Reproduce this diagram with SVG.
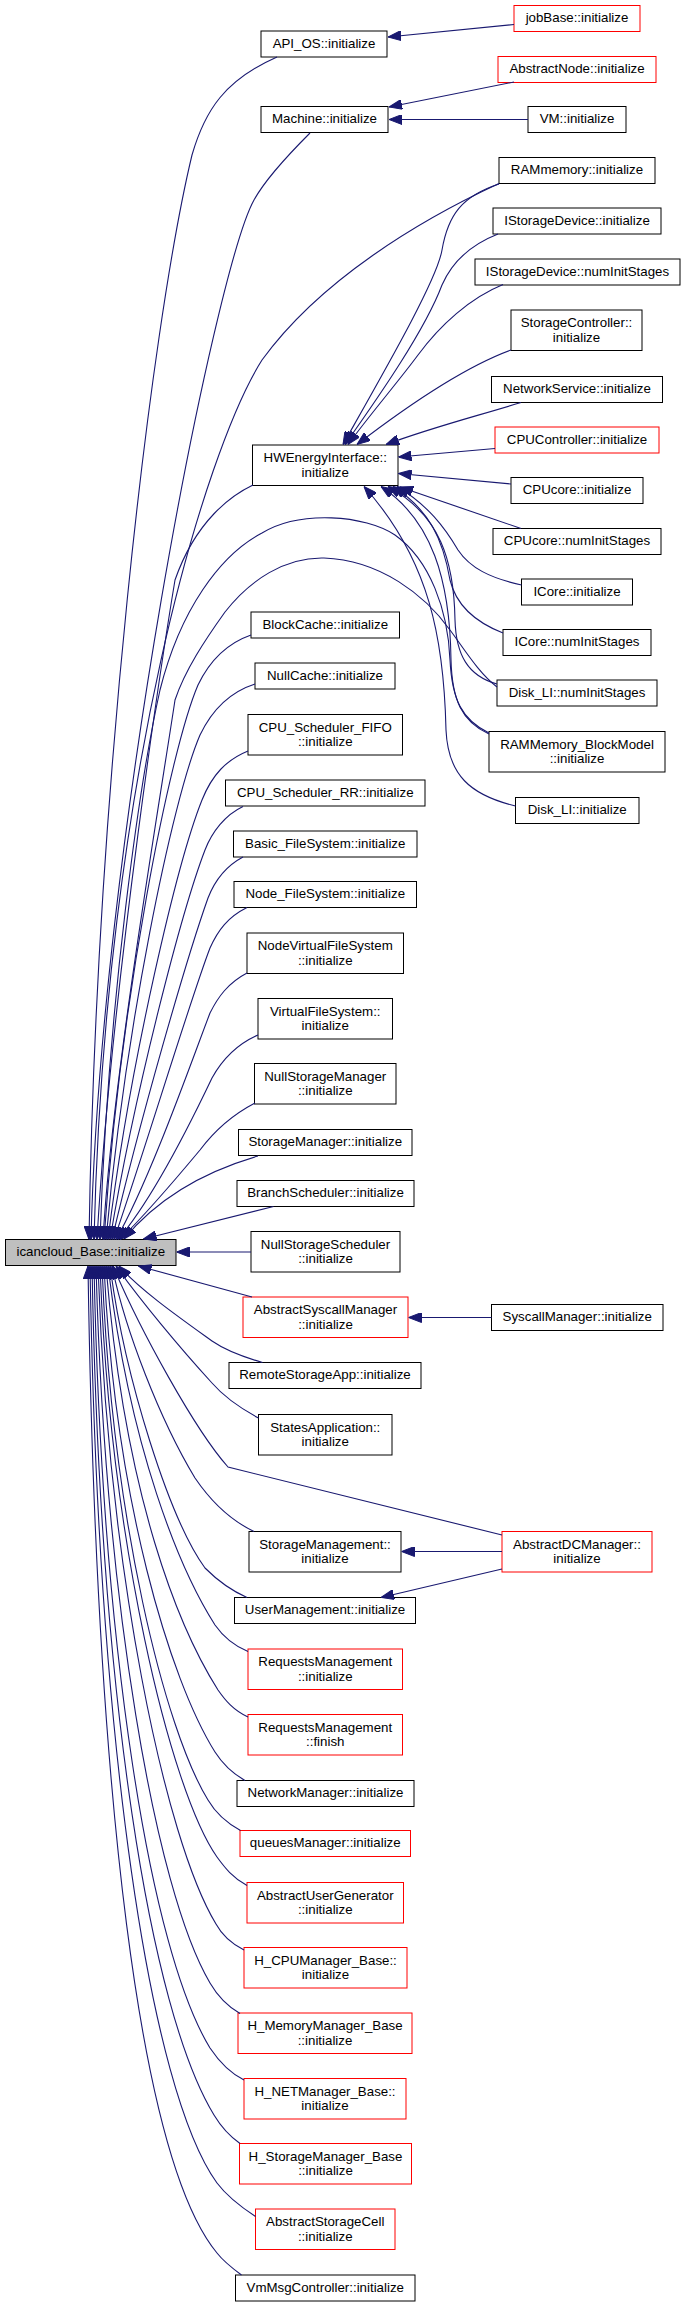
<svg xmlns="http://www.w3.org/2000/svg" width="683" height="2307" viewBox="0 0 683 2307">
<style>
.n rect{fill:#fff;stroke:#000;stroke-width:1}
.n.red rect{stroke:#f00}
.n.root rect{fill:#bfbfbf}
text{font-family:"Liberation Sans",Arial,Helvetica,sans-serif;font-size:13.3px;text-anchor:middle;fill:#000}
#edges path{fill:none;stroke:#191970;stroke-width:1.1;marker-end:url(#ah)}
</style>
<defs>
<marker id="ah" viewBox="0 0 13 10" markerWidth="13" markerHeight="10" refX="13" refY="5" orient="auto" markerUnits="userSpaceOnUse">
<path d="M0,0 L13,5 L0,10 z" fill="#191970" stroke="#191970" stroke-width="1"/>
</marker>
</defs>
<rect width="683" height="2307" fill="#fff"/>

<g id="nodes">
<g id="n0" class="n root"><rect x="5.5" y="1239.5" width="170.5" height="26"/><text x="90.75" y="1256">icancloud_Base::initialize</text></g>
<g id="n1" class="n"><rect x="261" y="31" width="126" height="26"/><text x="324" y="47.5">API_OS::initialize</text></g>
<g id="n2" class="n"><rect x="261" y="106.5" width="127" height="26"/><text x="324.5" y="123">Machine::initialize</text></g>
<g id="n3" class="n red"><rect x="514" y="5.5" width="126" height="26"/><text x="577" y="22">jobBase::initialize</text></g>
<g id="n4" class="n red"><rect x="498" y="56.5" width="158" height="26"/><text x="577" y="73">AbstractNode::initialize</text></g>
<g id="n5" class="n"><rect x="528" y="106.5" width="98" height="26"/><text x="577" y="123">VM::initialize</text></g>
<g id="n6" class="n"><rect x="499" y="157.5" width="156" height="26"/><text x="577" y="174">RAMmemory::initialize</text></g>
<g id="n7" class="n"><rect x="493" y="208" width="168" height="26"/><text x="577" y="224.5">IStorageDevice::initialize</text></g>
<g id="n8" class="n"><rect x="475" y="259" width="205" height="26"/><text x="577.5" y="275.5">IStorageDevice::numInitStages</text></g>
<g id="n9" class="n"><rect x="511" y="310" width="131" height="40.5"/><text x="576.5" y="327.25">StorageController::</text><text x="576.5" y="341.75">initialize</text></g>
<g id="n10" class="n"><rect x="491.5" y="376.5" width="171" height="26"/><text x="577" y="393">NetworkService::initialize</text></g>
<g id="n11" class="n red"><rect x="495" y="427" width="164" height="26"/><text x="577" y="443.5">CPUController::initialize</text></g>
<g id="n12" class="n"><rect x="252.5" y="445" width="145.5" height="40.5"/><text x="325.25" y="462.25">HWEnergyInterface::</text><text x="325.25" y="476.75">initialize</text></g>
<g id="n13" class="n"><rect x="511" y="477.5" width="132" height="26"/><text x="577" y="494">CPUcore::initialize</text></g>
<g id="n14" class="n"><rect x="493" y="528.5" width="168" height="26"/><text x="577" y="545">CPUcore::numInitStages</text></g>
<g id="n15" class="n"><rect x="521.5" y="579" width="111" height="26"/><text x="577" y="595.5">ICore::initialize</text></g>
<g id="n16" class="n"><rect x="503" y="629.5" width="148" height="26"/><text x="577" y="646">ICore::numInitStages</text></g>
<g id="n17" class="n"><rect x="251" y="612" width="148.5" height="26"/><text x="325.25" y="628.5">BlockCache::initialize</text></g>
<g id="n18" class="n"><rect x="255" y="663" width="140" height="26"/><text x="325" y="679.5">NullCache::initialize</text></g>
<g id="n19" class="n"><rect x="497" y="680" width="160" height="26"/><text x="577" y="696.5">Disk_LI::numInitStages</text></g>
<g id="n20" class="n"><rect x="248" y="714.5" width="154.5" height="40.5"/><text x="325.25" y="731.75">CPU_Scheduler_FIFO</text><text x="325.25" y="746.25">::initialize</text></g>
<g id="n21" class="n"><rect x="489" y="731.5" width="176" height="40.5"/><text x="577" y="748.75">RAMMemory_BlockModel</text><text x="577" y="763.25">::initialize</text></g>
<g id="n22" class="n"><rect x="225.5" y="780" width="199.5" height="26"/><text x="325.25" y="796.5">CPU_Scheduler_RR::initialize</text></g>
<g id="n23" class="n"><rect x="515.5" y="797.5" width="123.5" height="26"/><text x="577.25" y="814">Disk_LI::initialize</text></g>
<g id="n24" class="n"><rect x="233.5" y="831" width="183.5" height="26"/><text x="325.25" y="847.5">Basic_FileSystem::initialize</text></g>
<g id="n25" class="n"><rect x="234" y="881.5" width="182.5" height="26"/><text x="325.25" y="898">Node_FileSystem::initialize</text></g>
<g id="n26" class="n"><rect x="247" y="933" width="156.5" height="40.5"/><text x="325.25" y="950.25">NodeVirtualFileSystem</text><text x="325.25" y="964.75">::initialize</text></g>
<g id="n27" class="n"><rect x="258" y="998.5" width="134.5" height="40.5"/><text x="325.25" y="1015.75">VirtualFileSystem::</text><text x="325.25" y="1030.25">initialize</text></g>
<g id="n28" class="n"><rect x="254.5" y="1063.5" width="141.5" height="40.5"/><text x="325.25" y="1080.75">NullStorageManager</text><text x="325.25" y="1095.25">::initialize</text></g>
<g id="n29" class="n"><rect x="238.5" y="1129.5" width="173.5" height="26"/><text x="325.25" y="1146">StorageManager::initialize</text></g>
<g id="n30" class="n"><rect x="237" y="1180.5" width="177" height="26"/><text x="325.5" y="1197">BranchScheduler::initialize</text></g>
<g id="n31" class="n"><rect x="251" y="1231.5" width="149" height="40.5"/><text x="325.5" y="1248.75">NullStorageScheduler</text><text x="325.5" y="1263.25">::initialize</text></g>
<g id="n32" class="n red"><rect x="243" y="1297" width="165" height="40.5"/><text x="325.5" y="1314.25">AbstractSyscallManager</text><text x="325.5" y="1328.75">::initialize</text></g>
<g id="n33" class="n"><rect x="491.5" y="1304.5" width="171.5" height="26"/><text x="577.25" y="1321">SyscallManager::initialize</text></g>
<g id="n34" class="n"><rect x="229" y="1362.5" width="192" height="26"/><text x="325" y="1379">RemoteStorageApp::initialize</text></g>
<g id="n35" class="n"><rect x="258.5" y="1414.5" width="133.5" height="40.5"/><text x="325.25" y="1431.75">StatesApplication::</text><text x="325.25" y="1446.25">initialize</text></g>
<g id="n36" class="n"><rect x="249" y="1531.5" width="152" height="40.5"/><text x="325" y="1548.75">StorageManagement::</text><text x="325" y="1563.25">initialize</text></g>
<g id="n37" class="n red"><rect x="502" y="1531.5" width="150" height="40.5"/><text x="577" y="1548.75">AbstractDCManager::</text><text x="577" y="1563.25">initialize</text></g>
<g id="n38" class="n"><rect x="234.5" y="1597.5" width="181" height="26"/><text x="325" y="1614">UserManagement::initialize</text></g>
<g id="n39" class="n red"><rect x="248" y="1649" width="154.5" height="40.5"/><text x="325.25" y="1666.25">RequestsManagement</text><text x="325.25" y="1680.75">::initialize</text></g>
<g id="n40" class="n red"><rect x="248" y="1714.5" width="154.5" height="40.5"/><text x="325.25" y="1731.75">RequestsManagement</text><text x="325.25" y="1746.25">::finish</text></g>
<g id="n41" class="n"><rect x="237" y="1780.5" width="177" height="26"/><text x="325.5" y="1797">NetworkManager::initialize</text></g>
<g id="n42" class="n red"><rect x="240" y="1830.5" width="170.5" height="26"/><text x="325.25" y="1847">queuesManager::initialize</text></g>
<g id="n43" class="n red"><rect x="247" y="1882.5" width="156.5" height="40.5"/><text x="325.25" y="1899.75">AbstractUserGenerator</text><text x="325.25" y="1914.25">::initialize</text></g>
<g id="n44" class="n red"><rect x="244" y="1947.5" width="163" height="40.5"/><text x="325.5" y="1964.75">H_CPUManager_Base::</text><text x="325.5" y="1979.25">initialize</text></g>
<g id="n45" class="n red"><rect x="238" y="2013" width="174" height="40.5"/><text x="325" y="2030.25">H_MemoryManager_Base</text><text x="325" y="2044.75">::initialize</text></g>
<g id="n46" class="n red"><rect x="244" y="2078.5" width="162" height="40.5"/><text x="325" y="2095.75">H_NETManager_Base::</text><text x="325" y="2110.25">initialize</text></g>
<g id="n47" class="n red"><rect x="239.5" y="2143.5" width="172" height="40.5"/><text x="325.5" y="2160.75">H_StorageManager_Base</text><text x="325.5" y="2175.25">::initialize</text></g>
<g id="n48" class="n red"><rect x="255.5" y="2209" width="139.5" height="40.5"/><text x="325.25" y="2226.25">AbstractStorageCell</text><text x="325.25" y="2240.75">::initialize</text></g>
<g id="n49" class="n"><rect x="235.5" y="2275" width="179.5" height="26"/><text x="325.25" y="2291.5">VmMsgController::initialize</text></g>
</g>

<g id="edges">
<path d="M514,24.5 L388,37"/>
<path d="M514,82 L389,107"/>
<path d="M528,119.5 L389,119.5"/>
<path d="M491.5,1317.5 L408.5,1317.5"/>
<path d="M502,1551.5 L401.5,1551.5"/>
<path d="M502,1569 L381,1597.5"/>

<path d="M499,184 C462,196 448,215 442,250 C437,280 385,370 343,444.5"/>
<path d="M498,234 C470,245 452,262 442,285 C425,330 380,395 345,444.5"/>
<path d="M503,284.5 C470,298 440,325 418,355 C398,382 372,412 348,444.5"/>
<path d="M511,350 C470,365 415,400 357,444.5"/>
<path d="M521,402.5 C470,418 430,428 386,444.5"/>
<path d="M495,448.5 L398.5,457"/>
<path d="M511,484 L398.5,473.5"/>
<path d="M521,528.5 L400,487"/>
<path d="M521.5,585 C490,578 470,568 458,550 C445,528 428,505 397,486.5"/>
<path d="M503,633 C475,622 456,605 450,580 C443,540 430,510 393,486.5"/>
<path d="M497,684 C468,676 456,655 455,620 C454,560 440,515 388,486.5"/>
<path d="M489,734 C462,722 452,700 451,660 C450,580 432,520 381,486.5"/>
<path d="M515.5,806 C470,795 448,775 446,730 C444,640 430,560 364,486.5"/>

<path d="M277,57 C225,80 205,110 192,155 C150,330 96,800 89,1239.5"/>
<path d="M310,133 C285,158 265,180 254,200 C215,270 100,850 91,1239.5"/>
<path d="M499,183.5 C420,220 320,280 262,360 C205,450 105,780 94,1239.5"/>
<path d="M253,485 C232,495 196,520 175,580 C165,640 112,980 97,1239.5"/>
<path d="M489,733 C462,720 452,700 450,660 C448,610 430,560 395,535 C365,515 300,510 262,533 C220,555 180,610 160,690 C140,780 108,1000 100,1239.5"/>
<path d="M497,687 C478,672 465,650 450,630 C425,595 380,560 324,558 C285,557 250,580 225,612 C205,640 185,670 175,700 C160,800 112,1080 103,1239.5"/>
<path d="M251,635 C228,643 210,660 198,685 C170,750 120,1000 104,1239.5"/>
<path d="M255,684 C230,692 212,710 200,735 C172,800 125,1030 106,1239.5"/>
<path d="M248,751 C226,760 212,775 202,800 C178,860 130,1060 108,1239.5"/>
<path d="M243,806.5 C225,815 212,832 205,850 C182,910 135,1090 110,1239.5"/>
<path d="M243,857 C226,866 215,880 208,898 C186,960 140,1120 112,1239.5"/>
<path d="M247,907.5 C228,917 218,930 210,948 C190,1000 145,1150 114,1239.5"/>
<path d="M247,973 C228,983 218,997 210,1013 C192,1060 150,1180 116,1239.5"/>
<path d="M258,1035 C235,1045 222,1060 212,1078 C192,1120 152,1200 118,1239.5"/>
<path d="M255,1103 C232,1115 215,1130 200,1150 C175,1180 145,1215 120,1239.5"/>
<path d="M258,1156 C210,1170 160,1195 124,1239"/>
<path d="M273.5,1206.5 C220,1220 180,1230 143.5,1239"/>
<path d="M251,1252 L176.5,1252"/>

<path d="M252,1297 L138.5,1266"/>
<path d="M262.5,1362.5 C240,1356 225,1350 212,1341 C180,1318 140,1290 119,1266"/>
<path d="M258.5,1418 C240,1408 225,1398 212,1383 C180,1348 140,1300 116,1266"/>
<path d="M502,1535 L228,1467 C195,1430 140,1330 113,1266"/>
<path d="M254,1531.5 C230,1520 210,1500 195,1478 C160,1420 125,1330 112,1266"/>
<path d="M247,1597.5 C230,1590 215,1578 205,1568 C170,1520 125,1380 110,1266"/>
<path d="M248,1651.5 C232,1645 222,1635 215,1625 C180,1570 130,1450 108,1266"/>
<path d="M248,1717 C233,1710 225,1700 218,1690 C180,1630 125,1500 106,1266"/>
<path d="M245,1780.5 C230,1772 222,1763 215,1752 C170,1680 115,1500 104,1266"/>
<path d="M240.5,1830.5 C225,1822 215,1812 208,1800 C165,1730 112,1520 102,1266"/>
<path d="M247,1885.5 C233,1878 225,1868 217,1857 C170,1790 110,1540 100,1266"/>
<path d="M244,1950 C230,1943 222,1935 216,1924 C165,1840 108,1570 98,1266"/>
<path d="M240,2013.5 C225,2005 217,1995 210,1983 C155,1890 105,1600 96,1266"/>
<path d="M244,2080 C228,2072 218,2060 210,2048 C150,1950 102,1650 94,1266"/>
<path d="M240,2143.5 C228,2135 220,2125 214,2115 C150,2010 100,1700 92,1266"/>
<path d="M255.5,2216.5 C238,2205 226,2195 217,2183 C150,2090 98,1750 90,1266"/>
<path d="M241.5,2275 C232,2268 224,2262 217,2253 C140,2160 96,1800 88,1266"/>
</g>
</svg>
